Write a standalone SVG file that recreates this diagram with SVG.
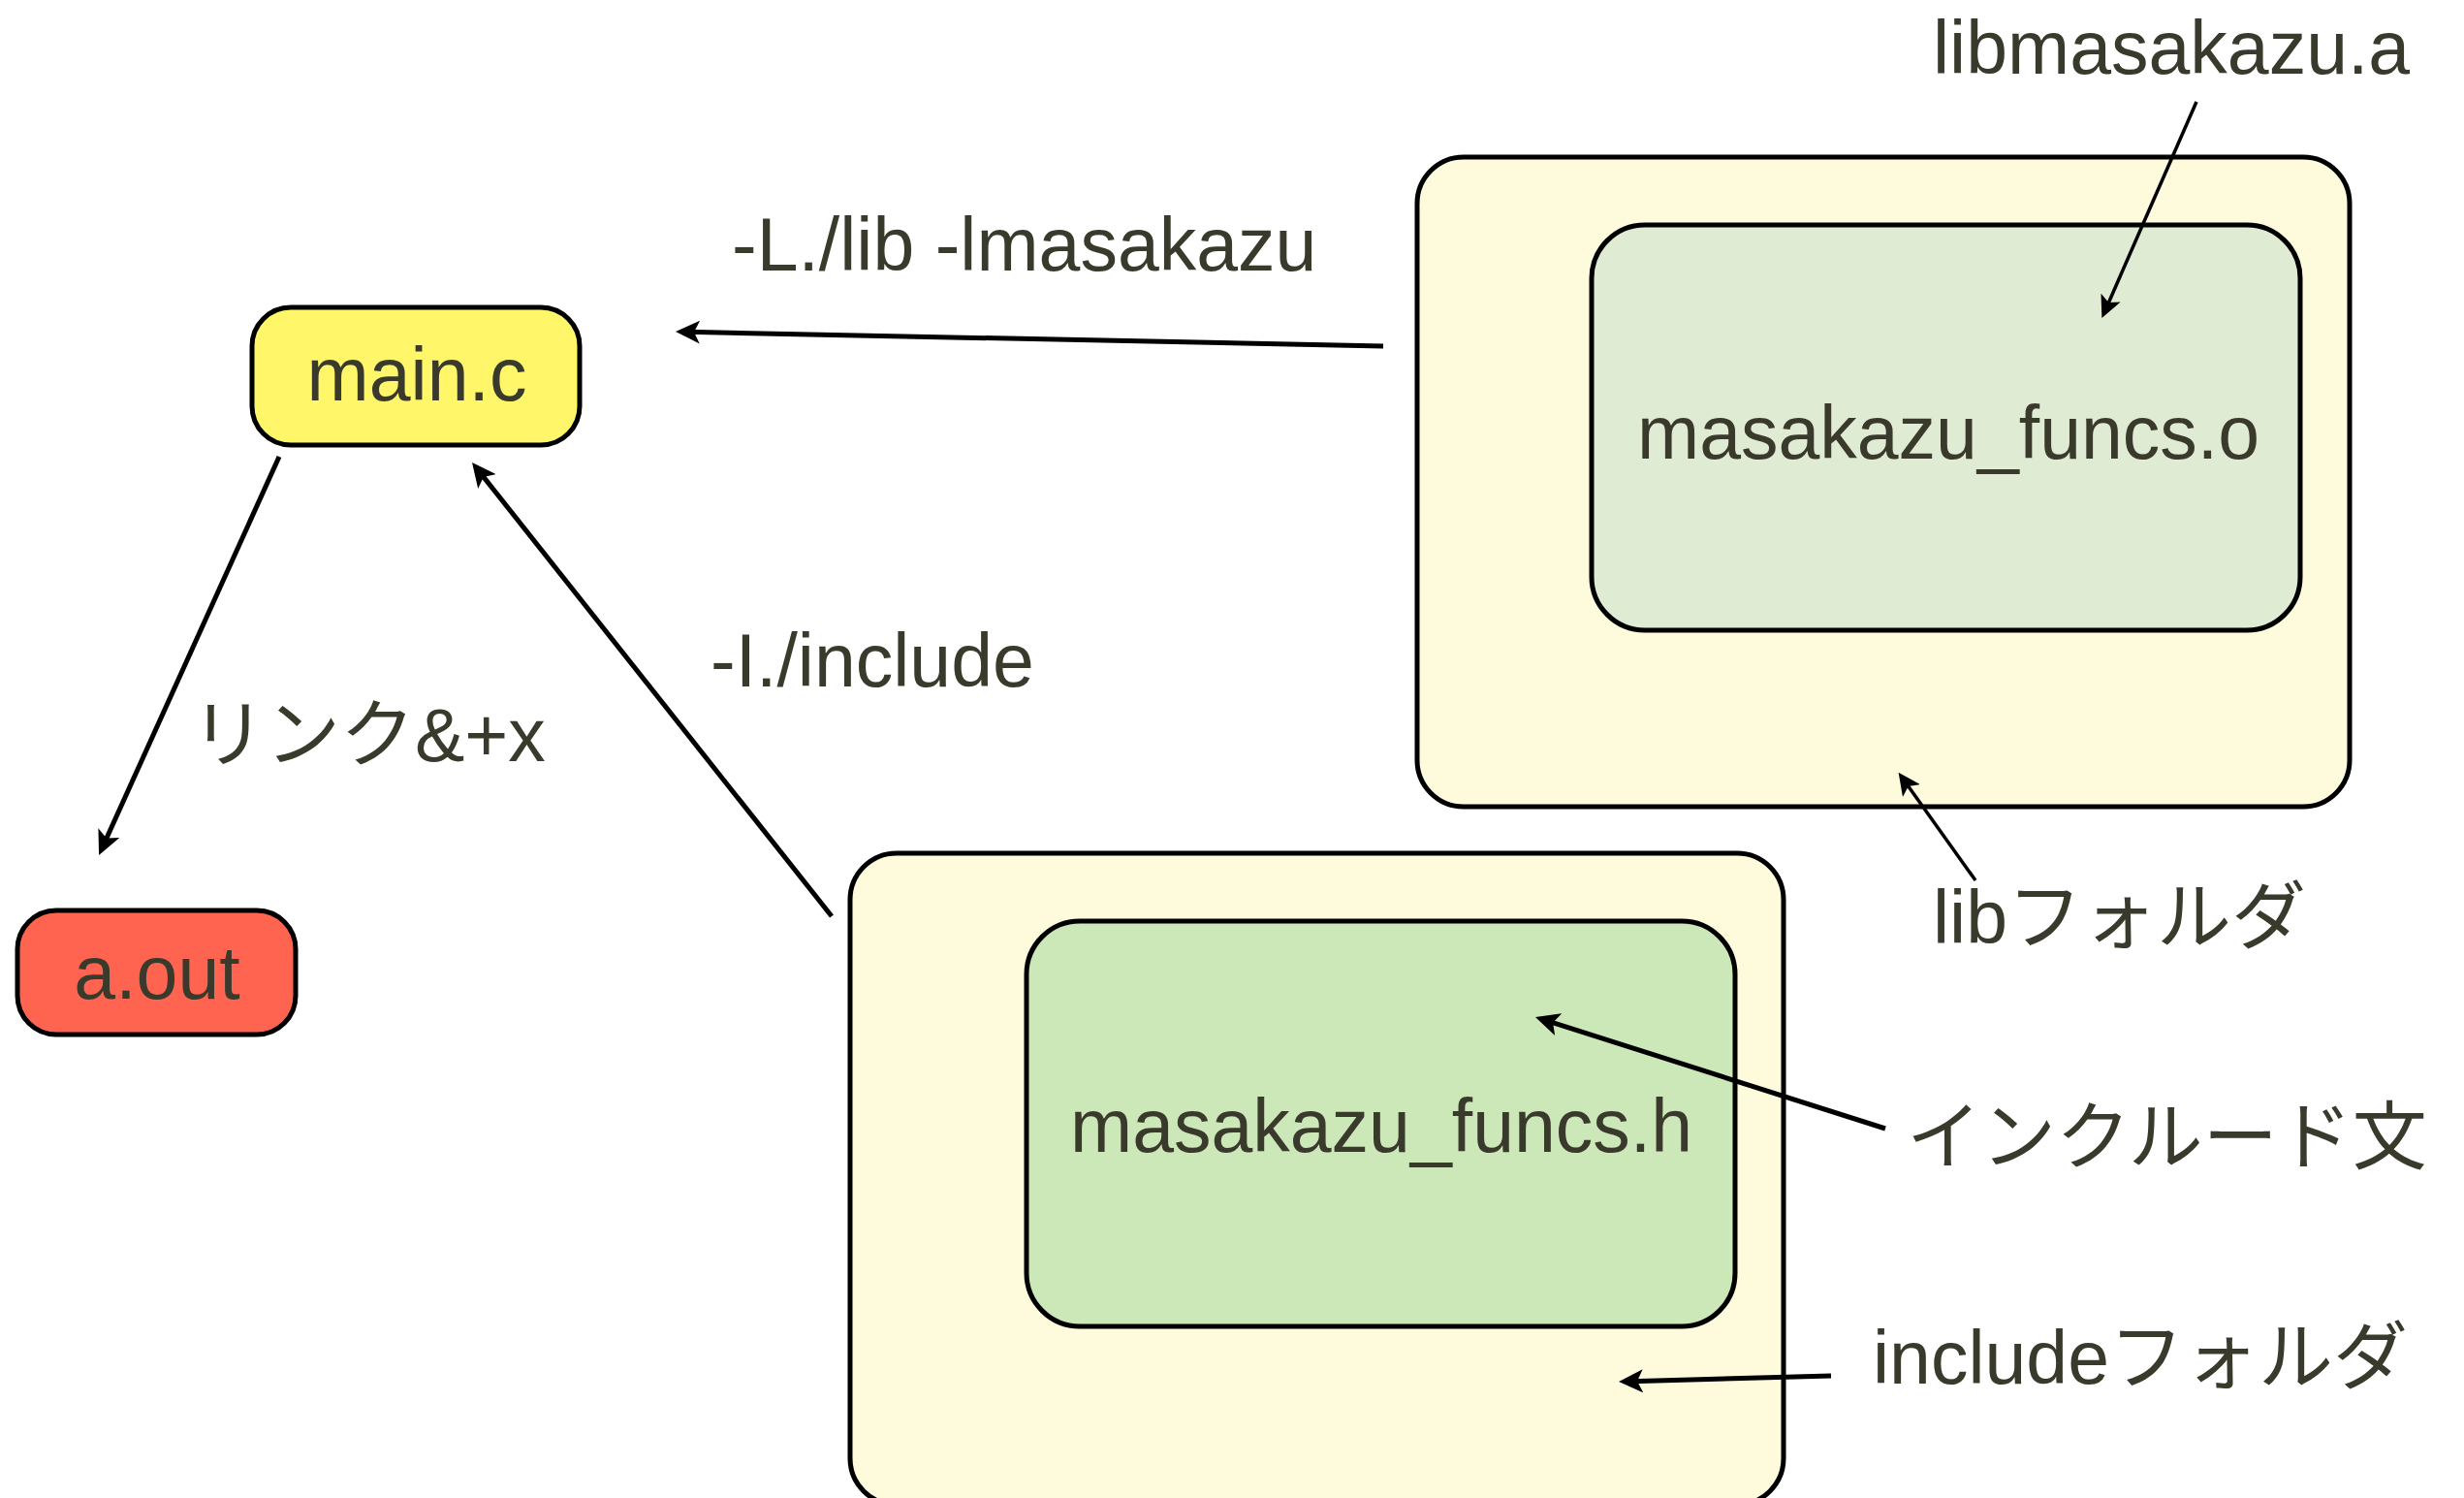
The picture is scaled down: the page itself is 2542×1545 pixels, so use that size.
<svg xmlns="http://www.w3.org/2000/svg" width="2542" height="1545" viewBox="0 0 2542 1545">
<style>
.box{stroke:#000;stroke-width:5}
.t{font-family:"Liberation Sans","Noto Sans CJK JP",sans-serif;font-size:77px;fill:#3a3a2c}
.c{text-anchor:middle}
.a{stroke:#000;stroke-width:5;fill:none;marker-end:url(#ah)}
.a2{stroke:#000;stroke-width:3.5;fill:none;marker-end:url(#ah2)}
</style>
<defs>
<marker id="ah" viewBox="0 0 25 24" refX="13" refY="12" markerWidth="25" markerHeight="24" markerUnits="userSpaceOnUse" orient="auto">
<path d="M0,0 L25,12 L0,24 L6,12 z" fill="#000"/>
</marker>
<marker id="ah2" viewBox="0 0 25 24" refX="13" refY="12" markerWidth="23" markerHeight="22" markerUnits="userSpaceOnUse" orient="auto">
<path d="M0,0 L25,12 L0,24 L6,12 z" fill="#000"/>
</marker>
</defs>
<rect width="2542" height="1545" fill="#fff"/>
<g id="lib-folder">
<rect class="box" x="1462" y="162" width="962" height="670" rx="48" fill="#fefadc"/>
</g>
<g id="masakazu-funcs-o">
<rect class="box" x="1642" y="232" width="731" height="418" rx="55" fill="#e0ebd4"/>
<text class="t c" x="2010" y="473">masakazu_funcs.o</text>
</g>
<g id="include-folder">
<rect class="box" x="877" y="880" width="963" height="672" rx="48" fill="#fefadc"/>
</g>
<g id="masakazu-funcs-h">
<rect class="box" x="1059" y="950" width="731" height="418" rx="55" fill="#cde8b8"/>
<text class="t c" x="1425" y="1188">masakazu_funcs.h</text>
</g>
<g id="main-c">
<rect class="box" x="260" y="317" width="338" height="142" rx="40" fill="#fff66a"/>
<text class="t c" x="430" y="413">main.c</text>
</g>
<g id="a-out">
<rect class="box" x="18" y="939" width="287" height="128" rx="40" fill="#ff6450"/>
<text class="t c" x="162" y="1030">a.out</text>
</g>
<g id="connectors">
<line class="a" x1="288" y1="471" x2="107" y2="871"/>
<line class="a" x1="858" y1="945" x2="494.5" y2="486.4"/>
<line class="a" x1="1427" y1="357" x2="709" y2="342.3"/>
<line class="a2" x1="2266" y1="105" x2="2172.8" y2="318"/>
<line class="a2" x1="2038" y1="908" x2="1965" y2="805.8"/>
<line class="a" x1="1945" y1="1164" x2="1595.4" y2="1052.6"/>
<line class="a" x1="1889" y1="1419" x2="1682" y2="1424.7"/>
</g>
<g id="labels">
<text class="t" x="197" y="785">リンク&amp;+x</text>
<text class="t" x="733" y="708">-I./include</text>
<text class="t" x="755" y="279">-L./lib -lmasakazu</text>
<text class="t" x="1994" y="76">libmasakazu.a</text>
<text class="t" x="1994" y="973">libフォルダ</text>
<text class="t" x="1967" y="1200">インクルード文</text>
<text class="t" x="1932" y="1427">includeフォルダ</text>
</g>
</svg>
